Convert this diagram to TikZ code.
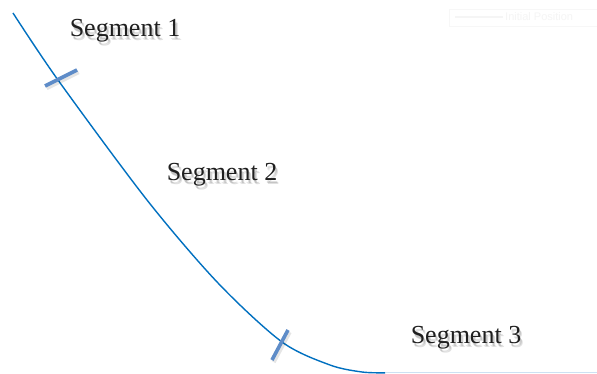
\documentclass[tikz,border=0pt]{standalone}
\usepackage{fontspec}
\setmainfont{Liberation Serif}
\newfontfamily\legendfont{Liberation Sans}
\definecolor{trackblue}{RGB}{0,112,192}
\definecolor{tailblue}{RGB}{205,225,243}
\definecolor{markerblue}{RGB}{94,140,200}
\begin{document}
\begin{tikzpicture}[x=1pt,y=-1pt,
  trajectory/.style={draw=trackblue, line width=1.4pt},
  tail/.style={draw=tailblue, line width=1.3pt},
  marker/.style={draw=markerblue, line width=3.6pt, line cap=butt},
  markershadow/.style={draw=black, opacity=0.10, line width=4.5pt},
  seglabel/.style={font=\fontsize{26}{30}\selectfont, inner sep=0pt, text=black!88},
  seglabelshadow/.style={font=\fontsize{26}{30}\selectfont, inner sep=0pt, text=black, opacity=0.12}]
  % canvas
  \useasboundingbox[fill=white] (0,0) rectangle (597,374);

  % faint legend
  \draw[draw=black!3, line width=0.8pt] (449,9) rectangle (597,26);
  \draw[draw=black!4, line width=1.2pt] (455,17) -- (503,17);
  \node[anchor=west, inner sep=0pt, text=black!4, font=\legendfont\fontsize{11}{12}\selectfont] (legend) at (505,17) {Initial Position};

  % flat continuation of the trajectory
  \coordinate (flatstart) at (372,372.8);
  \coordinate (flatend) at (597,372.8);
  \draw[tail] (flatstart) -- (flatend);

  % trajectory
  \draw[trajectory] plot[smooth, tension=0.5] coordinates
    {(13,13) (58,80) (147,200) (218,283) (282,342) (330,365) (362,372) (385,372.8)};

  % segment boundaries, with soft shadow
  \coordinate (m1a) at (45,86);
  \coordinate (m1b) at (77,70);
  \coordinate (m2a) at (272,360);
  \coordinate (m2b) at (288,330);
  \draw[markershadow] ([shift={(1.5,2)}]m1a) -- ([shift={(1.5,2)}]m1b);
  \draw[markershadow] ([shift={(1.5,2)}]m2a) -- ([shift={(1.5,2)}]m2b);
  \draw[marker] (m1a) -- (m1b);
  \draw[marker] (m2a) -- (m2b);

  % labels, each over a soft drop shadow
  \foreach \dx/\dy in {1.5/2.5, 2.5/3.5} {
    \node[seglabelshadow] at (125+\dx,31+\dy) {Segment 1};
    \node[seglabelshadow] at (222+\dx,175+\dy) {Segment 2};
    \node[seglabelshadow] at (466+\dx,338+\dy) {Segment 3};
  }
  \node[seglabel] (seg1) at (125,31) {Segment 1};
  \node[seglabel] (seg2) at (222,175) {Segment 2};
  \node[seglabel] (seg3) at (466,338) {Segment 3};
\end{tikzpicture}
\end{document}
